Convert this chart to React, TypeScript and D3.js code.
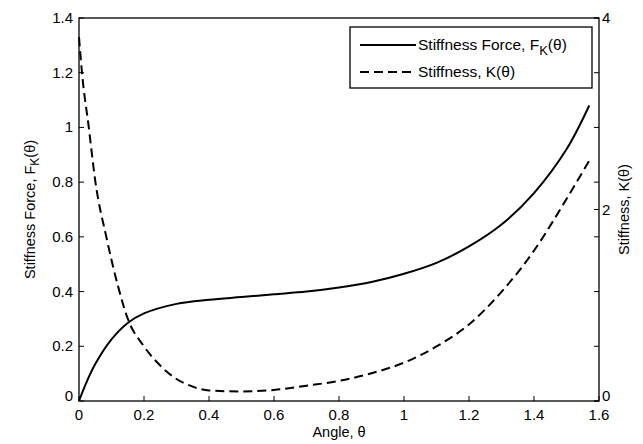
import { useEffect, useRef } from 'react';
import * as d3 from 'd3';

// angle (rad) and stiffness force F_K (left axis)
const forceTheta = [0, 0.02, 0.05, 0.1, 0.15, 0.2, 0.3, 0.4, 0.5, 0.6, 0.7, 0.8, 0.9, 1.0, 1.1, 1.2, 1.3, 1.4, 1.5, 1.57];
const forceVals = [0, 0.06, 0.135, 0.225, 0.285, 0.32, 0.355, 0.37, 0.38, 0.39, 0.4, 0.415, 0.435, 0.465, 0.505, 0.565, 0.645, 0.76, 0.92, 1.08];

// angle (rad) and stiffness K (right axis)
const stiffTheta = [0, 0.01, 0.03, 0.05, 0.085, 0.12, 0.15, 0.2, 0.25, 0.3, 0.35, 0.4, 0.5, 0.6, 0.7, 0.8, 0.9, 1.0, 1.1, 1.2, 1.3, 1.4, 1.5, 1.57];
const stiffVals = [3.8, 3.4, 2.86, 2.3, 1.7, 1.2, 0.86, 0.57, 0.37, 0.23, 0.15, 0.11, 0.1, 0.115, 0.16, 0.21, 0.29, 0.4, 0.57, 0.8, 1.14, 1.57, 2.11, 2.51];

const xTicks = [0, 0.2, 0.4, 0.6, 0.8, 1, 1.2, 1.4, 1.6];
const leftTicks = [0, 0.2, 0.4, 0.6, 0.8, 1, 1.2, 1.4];
const rightTicks = [0, 2, 4];

const App = () => {
  const svgRef = useRef<SVGSVGElement>(null);

  useEffect(() => {
    const root = d3.select(svgRef.current);
    root.selectAll('*').remove();

    const W = 643, H = 444;
    const margin = { top: 18, right: 44, bottom: 43, left: 79 };
    const width = W - margin.left - margin.right;
    const height = H - margin.top - margin.bottom;
    const font = 'Liberation Sans, Arial, sans-serif';

    const svg = root
      .attr('width', W)
      .attr('height', H)
      .style('font-family', font)
      .append('g')
      .attr('transform', `translate(${margin.left},${margin.top})`);

    const x = d3.scaleLinear().domain([0, 1.6]).range([0, width]);
    const yL = d3.scaleLinear().domain([0, 1.4]).range([height, 0]);
    const yR = d3.scaleLinear().domain([0, 4]).range([height, 0]);

    const tickLen = 5;

    // Frame
    svg.append('rect')
      .attr('width', width)
      .attr('height', height)
      .attr('fill', 'none')
      .attr('stroke', '#000')
      .attr('stroke-width', 1.3);

    // x ticks
    xTicks.forEach(t => {
      svg.append('line')
        .attr('x1', x(t)).attr('x2', x(t))
        .attr('y1', height).attr('y2', height - tickLen)
        .attr('stroke', '#000');
      svg.append('text')
        .attr('x', x(t))
        .attr('y', height + 19)
        .attr('text-anchor', 'middle')
        .style('font-size', '15px')
        .text(String(t));
    });

    // left ticks (mirrored on the right side)
    leftTicks.forEach(t => {
      svg.append('line')
        .attr('x1', 0).attr('x2', tickLen)
        .attr('y1', yL(t)).attr('y2', yL(t))
        .attr('stroke', '#000');
      svg.append('line')
        .attr('x1', width).attr('x2', width - tickLen)
        .attr('y1', yL(t)).attr('y2', yL(t))
        .attr('stroke', '#000');
      svg.append('text')
        .attr('x', -6)
        .attr('y', yL(t) + (t === 0 ? 0 : 5))
        .attr('text-anchor', 'end')
        .style('font-size', '15px')
        .text(String(t));
    });

    // right ticks
    rightTicks.forEach(t => {
      svg.append('line')
        .attr('x1', width).attr('x2', width - tickLen)
        .attr('y1', yR(t)).attr('y2', yR(t))
        .attr('stroke', '#000');
      svg.append('text')
        .attr('x', width + 3)
        .attr('y', yR(t) + (t === 0 ? 0 : 5))
        .attr('text-anchor', 'start')
        .style('font-size', '15px')
        .text(String(t));
    });

    // Curves
    const forceLine = d3.line<number>()
      .x((_, i) => x(forceTheta[i]))
      .y(d => yL(d))
      .curve(d3.curveCatmullRom);

    const stiffLine = d3.line<number>()
      .x((_, i) => x(stiffTheta[i]))
      .y(d => yR(d))
      .curve(d3.curveMonotoneX);

    svg.append('path')
      .datum(forceVals)
      .attr('d', forceLine)
      .attr('fill', 'none')
      .attr('stroke', '#000')
      .attr('stroke-width', 2);

    svg.append('path')
      .datum(stiffVals)
      .attr('d', stiffLine)
      .attr('fill', 'none')
      .attr('stroke', '#000')
      .attr('stroke-width', 2)
      .attr('stroke-dasharray', '9,5');

    // Axis labels
    svg.append('text')
      .attr('x', width / 2)
      .attr('y', height + 36)
      .attr('text-anchor', 'middle')
      .style('font-size', '14.5px')
      .text('Angle, θ');

    const leftLabel = svg.append('text')
      .attr('transform', `translate(${-44},${height / 2}) rotate(-90)`)
      .attr('text-anchor', 'middle')
      .style('font-size', '14.5px');
    leftLabel.append('tspan').text('Stiffness Force, F');
    leftLabel.append('tspan').attr('dy', 4).style('font-size', '12px').text('K');
    leftLabel.append('tspan').attr('dy', -4).text('(θ)');

    svg.append('text')
      .attr('transform', `translate(${width + 30},${height / 2}) rotate(-90)`)
      .attr('text-anchor', 'middle')
      .style('font-size', '14.5px')
      .text('Stiffness, K(θ)');

    // Legend
    const lg = svg.append('g').attr('transform', `translate(${350 - margin.left},${27 - margin.top})`);
    lg.append('rect')
      .attr('width', 242)
      .attr('height', 61)
      .attr('fill', '#fff')
      .attr('stroke', '#000')
      .attr('stroke-width', 1.3);

    const rows = [
      { dash: null, label: 'Stiffness Force, F', sub: 'K', tail: '(θ)' },
      { dash: '9,5', label: 'Stiffness, K(θ)', sub: '', tail: '' },
    ];
    rows.forEach((r, i) => {
      const cy = 18 + i * 27;
      lg.append('line')
        .attr('x1', 10).attr('x2', 66)
        .attr('y1', cy).attr('y2', cy)
        .attr('stroke', '#000')
        .attr('stroke-width', 2)
        .attr('stroke-dasharray', r.dash);
      const t = lg.append('text')
        .attr('x', 68)
        .attr('y', cy + 5)
        .style('font-size', '15.5px');
      t.append('tspan').text(r.label);
      if (r.sub) {
        t.append('tspan').attr('dy', 5).style('font-size', '13px').text(r.sub);
        t.append('tspan').attr('dy', -5).text(r.tail);
      }
    });
  }, []);

  return <svg ref={svgRef} style={{ position: 'absolute', left: 0, top: 0 }}></svg>;
};

export default App;
